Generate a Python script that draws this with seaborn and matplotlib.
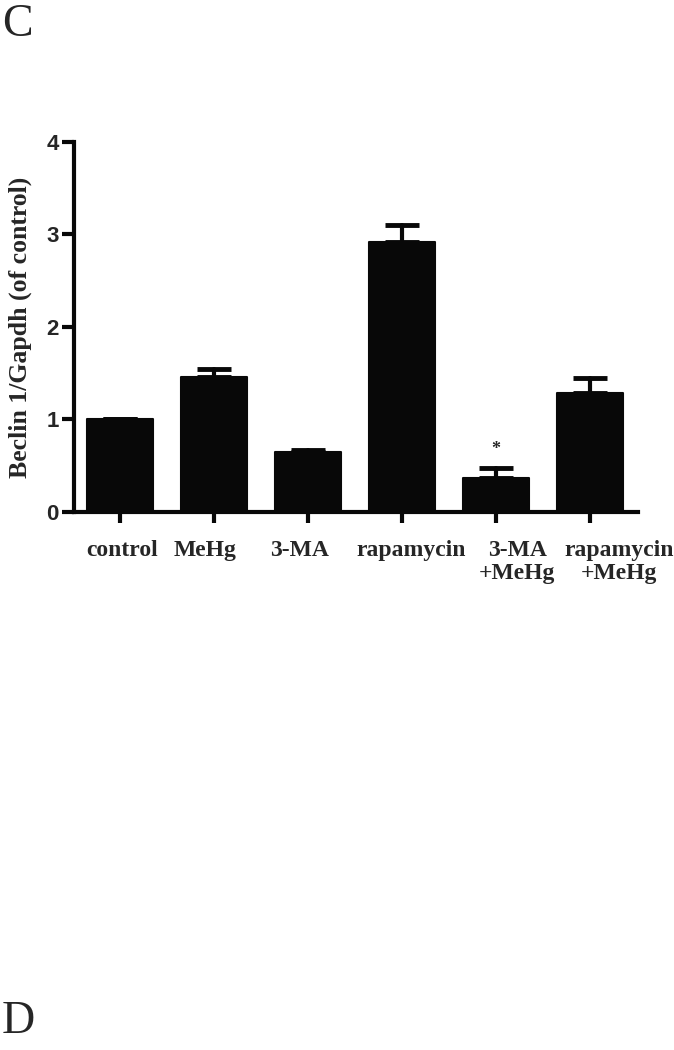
import numpy as np
import pandas as pd
import matplotlib
matplotlib.use('Agg')
import matplotlib.pyplot as plt
import seaborn as sns

# Beclin 1 / Gapdh values
groups = ['control', 'MeHg', '3-MA', 'rapamycin', '3-MA\n+MeHg', 'rapamycin\n+MeHg']
means = [1.00, 1.46, 0.65, 2.92, 0.37, 1.29]
sems = [0.00, 0.09, 0.02, 0.18, 0.11, 0.16]
yticks = [0, 1, 2, 3, 4]

df = pd.DataFrame({'group': groups, 'ratio': means})

sns.set_style('ticks')
plt.rcParams['font.family'] = ['Liberation Serif', 'DejaVu Serif']

fig = plt.figure(figsize=(6.74, 10.5), dpi=100)
ax = fig.add_axes([0.1098, 0.5124, 0.8368, 0.3524])

sns.barplot(data=df, x='group', y='ratio', color='#080808', errorbar=None,
            width=0.71, saturation=1, edgecolor='#080808', linewidth=1.5, ax=ax)
for p in ax.patches:
    p.set_joinstyle('round')

# upward-only error bars
x = np.arange(len(groups))
ax.errorbar(x, means, yerr=[np.zeros(len(sems)), sems], fmt='none',
            ecolor='#080808', elinewidth=3, capsize=12, capthick=3.5)
for coll in ax.collections:
    coll.set_capstyle('round')

# significance mark
ax.text(4, means[4] + sems[4] + 0.2, '*', ha='center', va='center',
        fontsize=13, fontweight='bold')

ax.set_xlim(-0.49, 5.51)
ax.set_ylim(0, 4)
ax.set_yticks(yticks)
ax.set_yticklabels([str(t) for t in yticks], family=['Liberation Sans'],
                   fontweight='bold', fontsize=16)
ax.set_xticklabels([])
ax.set_xlabel('')
ax.set_ylabel('Beclin 1/Gapdh (of control)', fontweight='bold', fontsize=18.5,
              labelpad=10)

# group labels; in the original they sit a little off their ticks (pixels)
label_shift = [2, -9, -9, 9, 21, 29]
for i, (name, dx) in enumerate(zip(groups, label_shift)):
    ax.annotate(name, xy=(i, 0), xycoords=('data', 'axes fraction'),
                xytext=(dx, -28), textcoords='offset pixels',
                ha='center', va='top', fontweight='bold', fontsize=17,
                linespacing=1.12, annotation_clip=False)

for side in ['top', 'right']:
    ax.spines[side].set_visible(False)
for side in ['left', 'bottom']:
    ax.spines[side].set_linewidth(3)
    ax.spines[side].set_color('#080808')
    ax.spines[side].set_capstyle('projecting')
ax.tick_params(axis='x', length=8, width=3, color='#080808')
ax.tick_params(axis='y', length=9, width=3, pad=2, color='#080808')

# panel letters
fig.text(0.003, 0.997, 'C', fontsize=33, va='top', ha='left')
fig.text(0.003, 0.007, 'D', fontsize=33, va='bottom', ha='left')

fig.savefig('out.png', dpi=100)
